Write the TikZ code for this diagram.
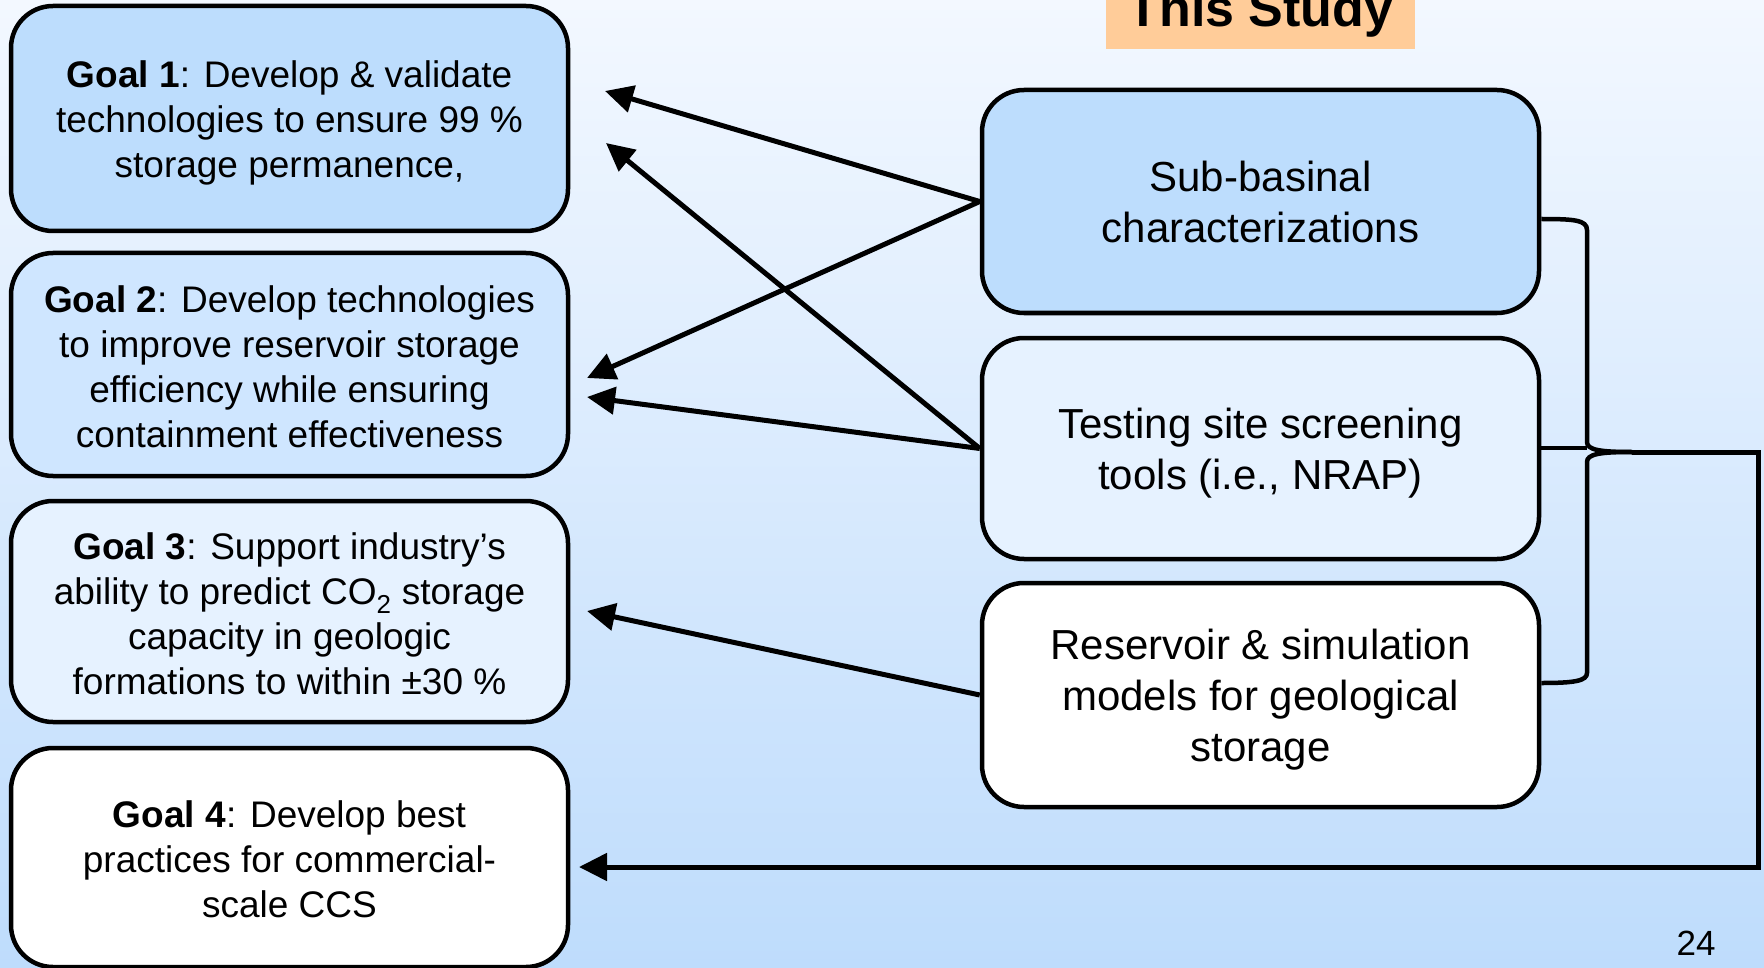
\documentclass[tikz,border=0pt]{standalone}
\usepackage{fontspec}
\setmainfont{Liberation Sans}
\usetikzlibrary{arrows.meta}
\definecolor{bgtop}{HTML}{F3F8FF}
\definecolor{bgbot}{HTML}{BEDCFC}
\definecolor{cone}{HTML}{BDDDFD}
\definecolor{ctwo}{HTML}{CFE6FF}
\definecolor{cthree}{HTML}{E6F2FF}
\definecolor{peach}{HTML}{FFCC99}
\newcommand\gtop{\rule{0pt}{35pt}}
\newcommand\gbot{\rule[-5pt]{0pt}{5pt}}
\newcommand\ttop{\rule{0pt}{40pt}}
\newcommand\tbot{\rule[-8pt]{0pt}{8pt}}
\begin{document}
\begin{tikzpicture}[x=1pt,y=-1pt,
  goalbox/.style={draw=black, line width=4.5pt, rounded corners=42pt, minimum width=557pt,
    align=center, inner sep=0pt, font=\fontsize{37}{45}\selectfont},
  taskbox/.style={draw=black, line width=4.5pt, rounded corners=42pt, minimum width=557pt,
    align=center, inner sep=0pt, font=\fontsize{42}{51}\selectfont},
  conn/.style={line width=5pt, -{Triangle[length=28pt,width=27pt]}},
  bracepath/.style={line width=4.5pt, line join=round}]
\useasboundingbox (0,0) rectangle (1764,968);
\clip (0,0) rectangle (1764,968);
\fill[top color=bgtop, bottom color=bgbot] (0,0) rectangle (1764,968);

% title
\node (study) [fill=peach, anchor=base, minimum width=309pt, text height=60pt, text depth=22pt,
  inner sep=0pt, font=\fontsize{52}{60}\selectfont\bfseries] at (1260.5,27) {This Study};

% goal boxes
\node (g1) [goalbox, fill=cone, minimum height=225pt] at (289.5,118.5)
  {\gtop\textbf{Goal 1}: Develop \& validate\\technologies to ensure 99 \%\\storage permanence,\gbot};
\node (g2) [goalbox, fill=ctwo, minimum height=223pt] at (289.5,364.5)
  {\gtop\textbf{Goal 2}: Develop technologies\\to improve reservoir storage\\efficiency while ensuring\\containment effectiveness\gbot};
\node (g3) [goalbox, fill=cthree, minimum height=221pt] at (289.5,611.5)
  {\gtop\textbf{Goal 3}: Support industry’s\\ability to predict CO\textsubscript{2} storage\\capacity in geologic\\formations to within ±30 \%\gbot};
\node (g4) [goalbox, fill=white, minimum height=219pt] at (289.5,857.5)
  {\gtop\textbf{Goal 4}: Develop best\\practices for commercial-\\scale CCS\gbot};

% task boxes
\node (sub) [taskbox, fill=cone, minimum height=223pt] at (1260.5,201.5)
  {\ttop Sub-basinal\\characterizations\tbot};
\node (test) [taskbox, fill=cthree, minimum height=221pt] at (1260.5,448.5)
  {\ttop Testing site screening\\tools (i.e., NRAP)\tbot};
\node (res) [taskbox, fill=white, minimum height=224pt] at (1260.5,695)
  {\ttop Reservoir \& simulation\\models for geological\\storage\tbot};

% arrow end points
\coordinate (t1) at (605,91);
\coordinate (t2) at (587,378);
\coordinate (t3) at (606,143);
\coordinate (t4) at (587,397);
\coordinate (t5) at (587,611);
\coordinate (t6) at (579,867);

\draw[conn] (sub.west) -- (t1);
\draw[conn] (sub.west) -- (t2);
\draw[conn] (test.west) -- (t3);
\draw[conn] (test.west) -- (t4);
\draw[conn] (res.west) -- (t5);

% brace
\coordinate (btip) at (1632,452);
\draw[bracepath] (sub.east |- 0,219) .. controls (1574,219) and (1587,220) .. (1587,230)
  -- (1587,442) .. controls (1587,450) and (1600,452) .. (btip);
\draw[bracepath] (btip) .. controls (1600,452) and (1587,454) .. (1587,462)
  -- (1587,673) .. controls (1587,681) and (1574,683) .. (res.east |- 0,683);
\draw[bracepath] (test.east |- 0,448) -- (1587,448);
\draw[conn, line join=miter] (btip) -- (1758,452) -- (1758,867) -- (t6);

% page number
\node (pg) [anchor=base, inner sep=0pt, font=\fontsize{35}{40}\selectfont] at (1696,955) {24};
\end{tikzpicture}
\end{document}
